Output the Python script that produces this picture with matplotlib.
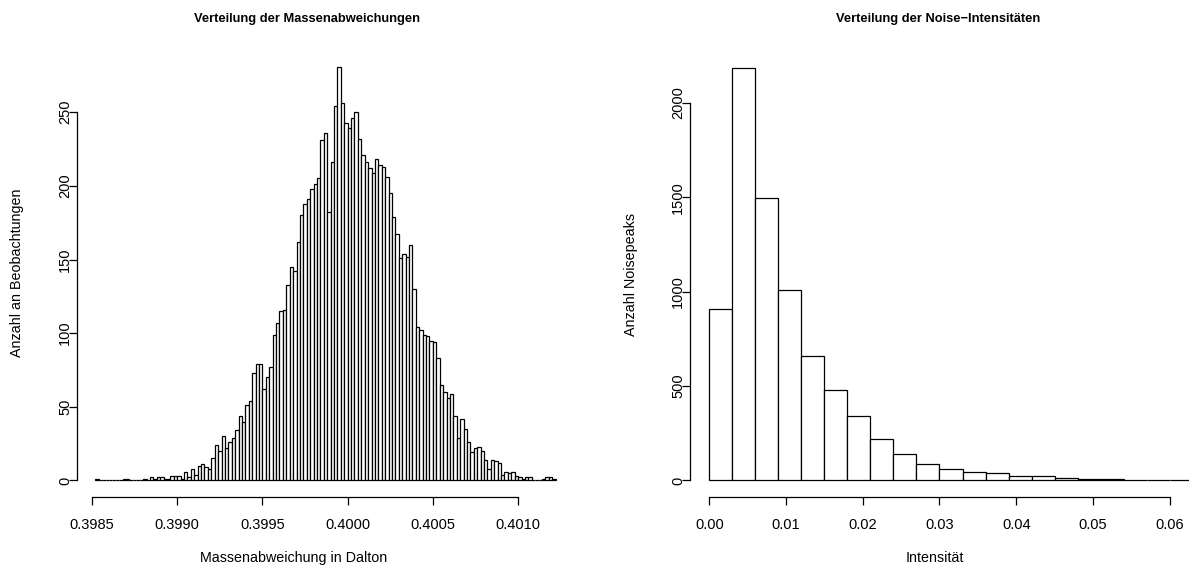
import numpy as np
import matplotlib.pyplot as plt

plt.rcParams['font.family'] = ['Liberation Sans', 'DejaVu Sans']

# Massenabweichungen: Bins von 0.39852 in Schritten von 0.00002
mass_start = 0.39852
mass_width = 0.00002
mass_counts = [
    1, 0, 0, 0, 0, 0, 0, 0, 1, 1, 0, 0, 0, 0, 1, 0, 2, 1, 2, 2,
    1, 1, 3, 3, 3, 1, 6, 2, 8, 4, 10, 11, 9, 8, 15, 24, 20, 30, 22, 26,
    29, 34, 44, 40, 51, 54, 73, 79, 79, 62, 70, 77, 99, 107, 115, 116, 133, 145, 142, 162,
    180, 188, 191, 198, 201, 205, 231, 236, 182, 216, 254, 281, 256, 243, 239, 246, 250, 232, 221, 216,
    212, 209, 218, 214, 213, 206, 195, 179, 167, 151, 154, 152, 160, 130, 104, 102, 99, 98, 95, 94,
    83, 65, 60, 56, 59, 44, 29, 42, 35, 26, 19, 22, 23, 20, 14, 8, 14, 13, 12, 4,
    6, 5, 6, 3, 2, 1, 2, 2, 0, 0, 0, 1, 2, 2, 1,
]
mass_xticks = [0.3985, 0.3990, 0.3995, 0.4000, 0.4005, 0.4010]
mass_yticks = [0, 50, 100, 150, 200, 250]

# Noise-Intensitaeten: Bins von 0 in Schritten von 0.003
noise_width = 0.003
noise_counts = [906, 2187, 1494, 1011, 660, 478, 339, 222, 142, 87,
                61, 46, 39, 26, 22, 13, 7, 9, 2, 2, 4, 1]
noise_xticks = [0.00, 0.01, 0.02, 0.03, 0.04, 0.05, 0.06]
noise_yticks = [0, 500, 1000, 1500, 2000]

W, H = 1189, 570
fig = plt.figure(figsize=(W / 100, H / 100), dpi=100)


def px_axes(x0, y0, x1, y1):
    return fig.add_axes([x0 / W, 1 - y1 / H, (x1 - x0) / W, (y1 - y0) / H])


def r_hist(ax, start, width, counts, xticks, yticks, xtick_fmt, xlim=None):
    counts = np.array(counts)
    edges = start + width * np.arange(len(counts) + 1)
    ax.bar(edges[:-1], counts, width=width, align='edge', color='white',
           edgecolor='black', linewidth=0.9)
    if xlim is None:
        xr = edges[-1] - edges[0]
        xlim = (edges[0] - 0.04 * xr, edges[-1] + 0.04 * xr)
    ax.set_xlim(*xlim)
    ymax = counts.max()
    ax.set_ylim(-0.04 * ymax, ymax * 1.04)
    for s in ['top', 'right']:
        ax.spines[s].set_visible(False)
    ax.spines['bottom'].set_bounds(xticks[0], xticks[-1])
    ax.spines['left'].set_bounds(yticks[0], yticks[-1])
    for s in ['bottom', 'left']:
        ax.spines[s].set_linewidth(0.9)
    ax.set_xticks(xticks)
    ax.set_xticklabels([xtick_fmt.format(v) for v in xticks])
    ax.set_yticks(yticks)
    ax.set_yticklabels([str(v) for v in yticks], rotation=90, va='center')
    ax.tick_params(axis='both', direction='out', length=5.5, width=0.9, labelsize=10.5)
    ax.tick_params(axis='x', pad=9.5)
    ax.tick_params(axis='y', pad=-2)
    ax.patch.set_visible(False)


ax1 = px_axes(77, 50, 574, 497)
r_hist(ax1, mass_start, mass_width, mass_counts, mass_xticks, mass_yticks, '{:.4f}')

ax2 = px_axes(690, 51, 1212, 497)
r_hist(ax2, 0.0, noise_width, noise_counts, noise_xticks, noise_yticks, '{:.2f}',
       xlim=(-0.00252, 0.06552))

fig.text(307 / W, 1 - 19 / H, 'Verteilung der Massenabweichungen', ha='center', va='center',
         fontsize=9.3, fontweight='bold')
fig.text(294 / W, 1 - 558 / H, 'Massenabweichung in Dalton', ha='center', va='center', fontsize=10.3)
fig.text(17 / W, 1 - 273 / H, 'Anzahl an Beobachtungen', ha='center', va='center',
         rotation=90, fontsize=10.3)

fig.text(938 / W, 1 - 19 / H, 'Verteilung der Noise\u2212Intensit\u00e4ten', ha='center', va='center',
         fontsize=9.3, fontweight='bold')
fig.text(935 / W, 1 - 558 / H, 'Intensit\u00e4t', ha='center', va='center', fontsize=10.3)
fig.text(631 / W, 1 - 275 / H, 'Anzahl Noisepeaks', ha='center', va='center',
         rotation=90, fontsize=10.3)

fig.savefig('out.png', dpi=100, facecolor='white')
